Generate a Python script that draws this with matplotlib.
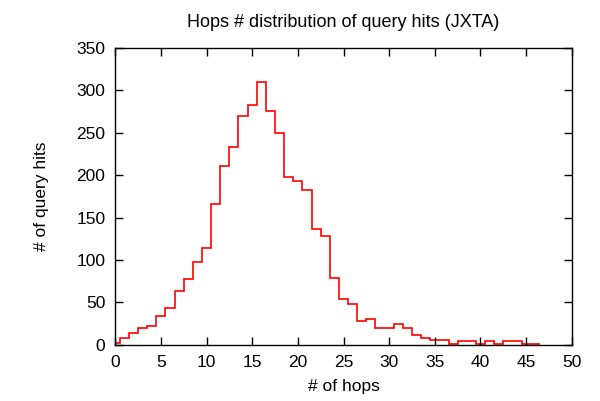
import numpy as np
import matplotlib
matplotlib.use("Agg")
import matplotlib.pyplot as plt

plt.rcParams['font.family'] = ['Liberation Sans', 'DejaVu Sans']

# hops 0..46 and number of query hits at each hop count
hops = np.arange(0, 47)
hits = [2, 7.5, 14, 20, 22, 34, 44, 63, 78, 98, 114, 166, 211, 233, 269, 282,
        310, 276, 249, 198, 193, 182, 136, 128, 79, 54, 48, 28, 31, 20, 20, 24,
        20, 12, 8.5, 6, 6, 1, 4, 4, 1, 4, 1, 4, 4, 1, 1]

fig = plt.figure(figsize=(6, 4.01), dpi=100)
ax = fig.add_axes([0.192, 0.140, 0.761, 0.741])

# gnuplot "histeps": bins centred on each integer hop count
edges = np.append(hops - 0.5, hops[-1] + 0.5)
ax.stairs(hits, edges, baseline=None, color='red', linewidth=1.2)

ax.set_xlim(0, 50)
ax.set_ylim(0, 350)
ax.set_xticks(np.arange(0, 51, 5))
ax.set_yticks(np.arange(0, 351, 50))
ax.tick_params(direction='in', length=6, width=1, top=True, right=True,
               labelsize=12.5, pad=7)
for s in ax.spines.values():
    s.set_linewidth(1)

ax.set_title('Hops # distribution of query hits (JXTA)', fontsize=13, pad=15)
ax.set_xlabel('# of hops', fontsize=12.5, labelpad=7)
ax.set_ylabel('# of query hits', fontsize=12.5, labelpad=20)

fig.savefig('out.png', dpi=100)
